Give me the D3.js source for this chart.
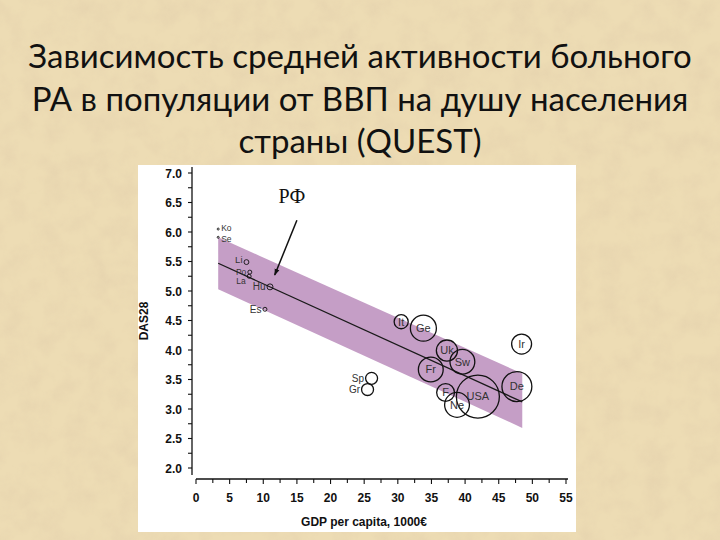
<!DOCTYPE html>
<html>
<head>
<meta charset="utf-8">
<script src="https://cdn.jsdelivr.net/npm/d3@7"></script>
<style>
  html, body { margin: 0; padding: 0; background: #e8d6a8; }
  svg { display: block; }
</style>
</head>
<body>
<svg id="chart" width="720" height="540"></svg>
<script>
// ---- data ----
const titleLines = [
  "Зависимость средней активности больного",
  "РА в популяции от ВВП на душу населения",
  "страны (QUEST)"
];
const countries = ["Ko","Se","Li","Po","La","Hu","Es","It","Ge","Ir","Uk","Sw","Fr","De","F","USA","Ne","Sp","Gr"];
const gdp       = [3.3, 3.3, 7.5, 8.0, 7.9, 11.0, 10.25, 30.5, 33.8, 48.4, 37.3, 39.6, 34.9, 47.7, 37.1, 41.9, 38.8, 26.1, 25.5];
const das28     = [6.05, 5.91, 5.49, 5.32, 5.25, 5.07, 4.69, 4.48, 4.37, 4.10, 3.99, 3.80, 3.67, 3.38, 3.28, 3.21, 3.07, 3.52, 3.33];
const patients  = [2, 2, 12, 8, 8, 18, 8, 100, 340, 200, 225, 310, 310, 450, 160, 930, 310, 72, 72];
const labelSide = ["right","right","left","left","left","left","left","center","center","center","center","center","center","center","center","center","center","left","left"];
const labelDy   = [-1, 1.5, -2, -0.5, 5, 0, 0, 0, 0, 0, 0, 0, 0, 0, 0, 0, 0, 0, 0];
const labelSize = [8.5, 8.5, 9.5, 8.5, 8.5, 10, 10, 11, 11, 11, 11, 11, 11, 11, 11, 11, 11, 10, 10];

const bandX     = [3.3, 48.5];
const bandUpper = [5.91, 3.60];
const bandLower = [5.03, 2.68];
const fitX      = [3.3, 48.5];
const fitY      = [5.47, 3.12];

const xTicks = [0,5,10,15,20,25,30,35,40,45,50,55];
const yTicks = [2.0,2.5,3.0,3.5,4.0,4.5,5.0,5.5,6.0,6.5,7.0];
const xLabel = "GDP per capita, 1000€";
const yLabel = "DAS28";
const annot = { text: "РФ", fromX: 15.0, fromY: 6.20, toX: 11.7, toY: 5.27 };

// ---- drawing ----
const svg = d3.select("#chart");
const defs = svg.append("defs");

// parchment texture
const f = defs.append("filter").attr("id","paper").attr("x",0).attr("y",0).attr("width","100%").attr("height","100%");
f.append("feTurbulence").attr("type","fractalNoise").attr("baseFrequency","0.045").attr("numOctaves",4).attr("seed",7).attr("result","n");
f.append("feColorMatrix").attr("in","n").attr("type","matrix")
  .attr("values","0 0 0 0 0.78  0 0 0 0 0.64  0 0 0 0 0.42  0 0 0 -2.0 1.25");
svg.append("rect").attr("width",720).attr("height",540).attr("fill","#eddcb4");
svg.append("rect").attr("width",720).attr("height",540).attr("filter","url(#paper)").attr("opacity",0.6);

// title
svg.append("g").selectAll("text").data(titleLines).join("text")
  .attr("x",360).attr("y",(d,i)=>68 + i*42.5)
  .attr("text-anchor","middle")
  .attr("font-family","Lato, 'Noto Sans', sans-serif")
  .attr("font-size",33)
  .attr("fill","#111")
  .text(d=>d);

// white panel
svg.append("rect").attr("x",138).attr("y",165).attr("width",438).attr("height",367).attr("fill","#fff");

const x = d3.scaleLinear().domain([0,55]).range([196,566]);
const y = d3.scaleLinear().domain([2,7]).range([468,173]);
const r = d3.scaleSqrt().domain([0,930]).range([0,21.5]);

// band
const bandData = bandX.map((v,i)=>({x:v, lo:bandLower[i], hi:bandUpper[i]}));
svg.append("path").datum(bandData)
  .attr("d", d3.area().x(d=>x(d.x)).y0(d=>y(d.lo)).y1(d=>y(d.hi)))
  .attr("fill","#c59ec6");

// regression line
svg.append("path").datum(fitX.map((v,i)=>[v,fitY[i]]))
  .attr("d", d3.line().x(d=>x(d[0])).y(d=>y(d[1])))
  .attr("stroke","#1a1a1a").attr("stroke-width",1.3).attr("fill","none");

// bubbles
const pts = countries.map((c,i)=>({c, gx:gdp[i], dy:das28[i], n:patients[i], side:labelSide[i], ddy:labelDy[i], fs:labelSize[i]}));
const g = svg.append("g");
g.selectAll("circle").data(pts).join("circle")
  .attr("cx",d=>x(d.gx)).attr("cy",d=>y(d.dy))
  .attr("r",d=>Math.max(1, r(d.n)))
  .attr("fill","none").attr("stroke","#111")
  .attr("stroke-width",d=>r(d.n)>4?1.3:0.9);
g.selectAll("text").data(pts).join("text")
  .attr("x",d=>{
    const rr = Math.max(1,r(d.n));
    if (d.side==="left") return x(d.gx)-rr-1.5;
    if (d.side==="right") return x(d.gx)+rr+2;
    return x(d.gx);
  })
  .attr("y",d=>y(d.dy)+d.fs*0.35+d.ddy)
  .attr("text-anchor",d=>d.side==="left"?"end":d.side==="right"?"start":"middle")
  .attr("font-family","'Liberation Sans', Arial, sans-serif")
  .attr("font-size",d=>d.fs)
  .attr("fill","#333")
  .text(d=>d.c);

// axes
const axisFont = "'Liberation Sans', Arial, sans-serif";
const yAx = svg.append("g").attr("transform","translate(192,0)");
yAx.append("line").attr("x1",0).attr("x2",0).attr("y1",y(7.1)).attr("y2",y(1.88)).attr("stroke","#111").attr("stroke-width",1.3);
const yMinor = d3.range(2, 7.01, 0.25);
yAx.selectAll("line.t").data(yMinor).join("line").attr("class","t")
  .attr("x1",-4).attr("x2",0).attr("y1",d=>y(d)).attr("y2",d=>y(d)).attr("stroke","#111").attr("stroke-width",1.1);
yAx.selectAll("text").data(yTicks).join("text")
  .attr("x",-10).attr("y",d=>y(d)+4.5).attr("text-anchor","end")
  .attr("font-family",axisFont).attr("font-weight","bold").attr("font-size",12).attr("fill","#111")
  .text(d=>d.toFixed(1));

const xAx = svg.append("g").attr("transform","translate(0,479)");
xAx.append("line").attr("x1",x(0)).attr("x2",x(55.3)).attr("y1",0).attr("y2",0).attr("stroke","#111").attr("stroke-width",1.3);
const xMinor = d3.range(0, 55.01, 2.5);
xAx.selectAll("line.t").data(xMinor).join("line").attr("class","t")
  .attr("x1",d=>x(d)).attr("x2",d=>x(d)).attr("y1",0).attr("y2",d=>d%5===0?5:4).attr("stroke","#111").attr("stroke-width",1.1);
xAx.selectAll("text").data(xTicks).join("text")
  .attr("x",d=>x(d)).attr("y",23).attr("text-anchor","middle")
  .attr("font-family",axisFont).attr("font-weight","bold").attr("font-size",12).attr("fill","#111")
  .text(d=>d);

svg.append("text").attr("x",364).attr("y",526).attr("text-anchor","middle")
  .attr("font-family",axisFont).attr("font-weight","bold").attr("font-size",12).attr("fill","#111")
  .text(xLabel);
svg.append("text").attr("transform","translate(148,321) rotate(-90)").attr("text-anchor","middle")
  .attr("font-family",axisFont).attr("font-weight","bold").attr("font-size",12).attr("fill","#111")
  .text(yLabel);

// annotation arrow
const mk = defs.append("marker").attr("id","ah").attr("viewBox","0 0 10 10").attr("refX",9).attr("refY",5)
  .attr("markerWidth",7).attr("markerHeight",7).attr("orient","auto-start-reverse").attr("markerUnits","userSpaceOnUse");
mk.append("path").attr("d","M0,1.5 L10,5 L0,8.5 Z").attr("fill","#111");
svg.append("line")
  .attr("x1",x(annot.fromX)).attr("y1",y(annot.fromY))
  .attr("x2",x(annot.toX)).attr("y2",y(annot.toY))
  .attr("stroke","#111").attr("stroke-width",1.5).attr("marker-end","url(#ah)");
svg.append("text").attr("x",x(annot.fromX)-5).attr("y",y(annot.fromY)-17)
  .attr("text-anchor","middle").attr("font-family","'Liberation Serif', 'Times New Roman', serif")
  .attr("font-size",20).attr("fill","#111").text(annot.text);
</script>
</body>
</html>
